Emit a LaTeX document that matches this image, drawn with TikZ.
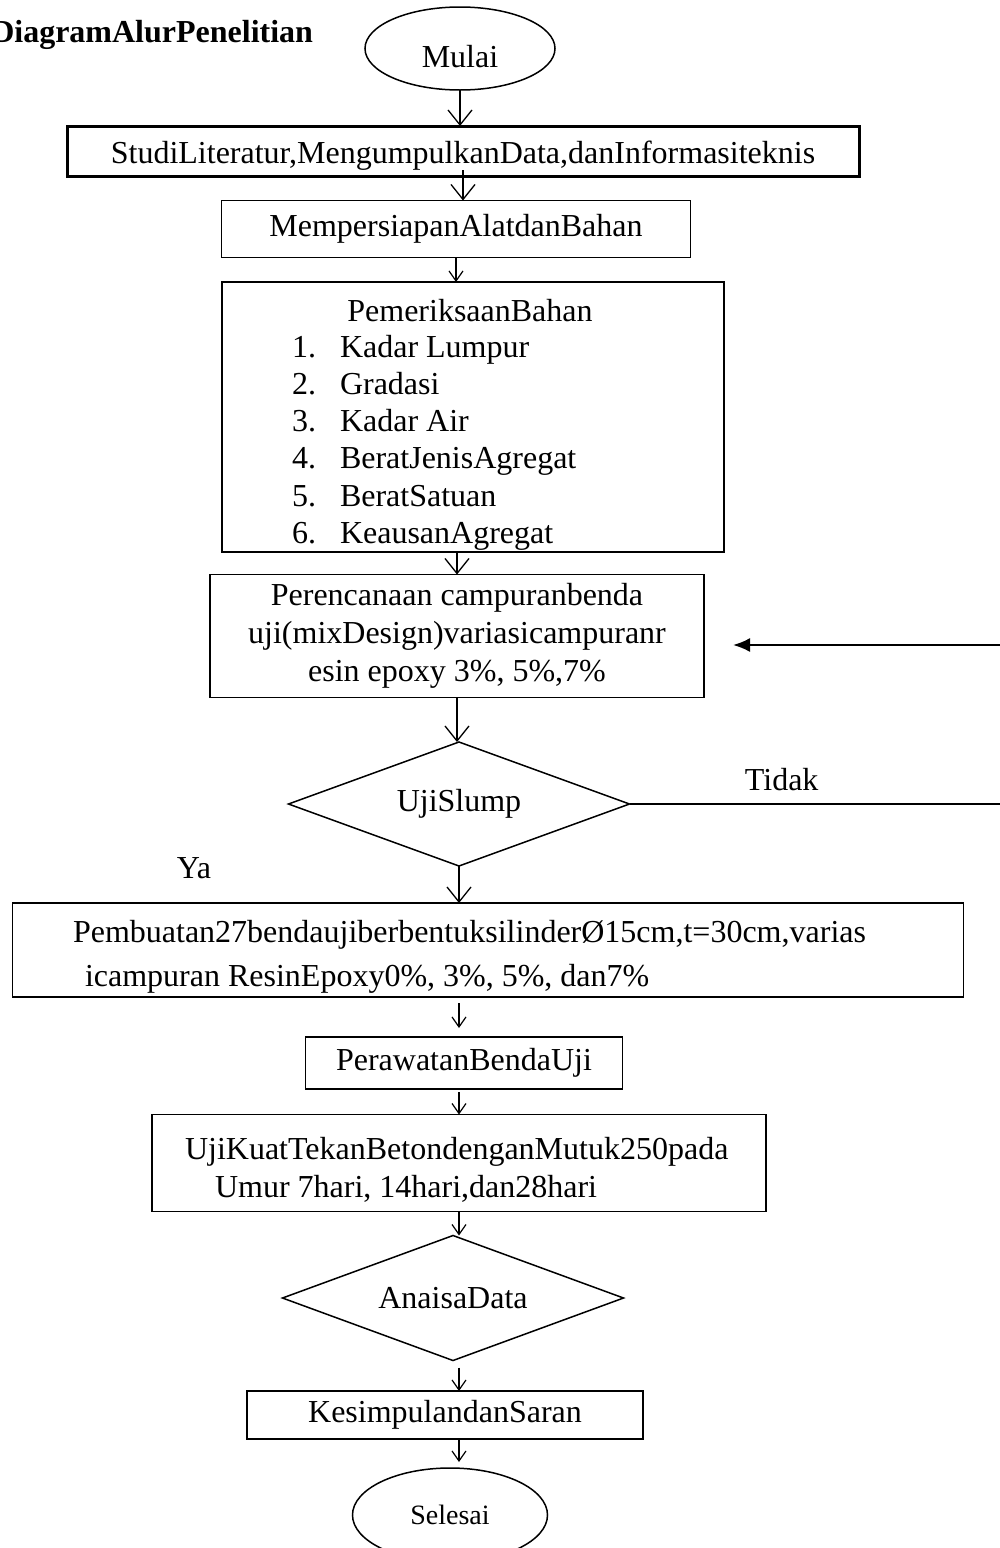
\documentclass[tikz,border=0pt]{standalone}
\usepackage{fontspec}
\setmainfont{Liberation Serif}
\usetikzlibrary{shapes.geometric,arrows.meta}

\begin{document}
\begin{tikzpicture}[x=1pt, y=-1pt, font=\fontsize{32}{38}\selectfont, every node/.style={inner sep=0pt, outer sep=0pt}, proses/.style={draw, rectangle, line width=1.3pt, align=center}, tebal/.style={draw, rectangle, line width=3pt}, terminal/.style={draw, ellipse, line width=1.5pt}, keputusan/.style={draw, diamond, aspect=2.75, line width=1.5pt}, panah/.style={line width=1.3pt, -{Straight Barb[length=15pt, width=24pt]}}, panahkecil/.style={line width=1.2pt, -{Straight Barb[length=10pt, width=14pt]}}, balik/.style={line width=2pt, -{Latex[length=17pt, width=14pt]}}]
		\useasboundingbox (0, 0) rectangle (999, 1548);

		\node[anchor=base east, font=\fontsize{32}{38}\selectfont\bfseries] (judul) at (313, 42) {DiagramAlurPenelitian};
		\node[terminal, minimum width=190pt, minimum height=83pt, text height=37pt, text depth=0pt] (mulai) at (460, 48.5) {Mulai};
		\node[tebal, minimum width=792pt, minimum height=50pt, text height=24pt, text depth=0pt] (studi) at (463, 151) {StudiLiteratur,MengumpulkanData,danInformasiteknis};
		\node[proses, minimum width=469pt, minimum height=57pt] (alat) at (456, 229) {MempersiapanAlatdanBahan};

		\node[proses, minimum width=502pt, minimum height=270pt] (periksa) at (473, 417) {};
		\node[anchor=base] (periksaJudul) at (470, 321) {PemeriksaanBahan};
		\node[anchor=base west] (b1) at (292, 357) {\makebox[48pt][l]{1.}Kadar Lumpur};
		\node[anchor=base west] (b2) at (292, 394) {\makebox[48pt][l]{2.}Gradasi};
		\node[anchor=base west] (b3) at (292, 431) {\makebox[48pt][l]{3.}Kadar Air};
		\node[anchor=base west] (b4) at (292, 468) {\makebox[48pt][l]{4.}BeratJenisAgregat};
		\node[anchor=base west] (b5) at (292, 506) {\makebox[48pt][l]{5.}BeratSatuan};
		\node[anchor=base west] (b6) at (292, 543) {\makebox[48pt][l]{6.}KeausanAgregat};

		\node[proses, minimum width=494pt, minimum height=123pt] (rencana) at (457, 636) {Perencanaan campuranbenda\\uji(mixDesign)variasicampuranr\\esin epoxy 3\%, 5\%,7\%};
		\node[keputusan, minimum width=341pt, minimum height=124pt] (slump) at (459, 804) {UjiSlump};
		\coordinate (balikKanan) at (1010, 645);
		\coordinate (balikUjung) at (733, 645);
		\node (ya) at (194, 868) {Ya};

		\node[proses, minimum width=951pt, minimum height=94pt] (buat) at (488, 950) {};
		\node[anchor=base west] (buat1) at (73, 942) {Pembuatan27bendaujiberbentuksilinderØ15cm,t=30cm,varias};
		\node[anchor=base west] (buat2) at (85, 986) {icampuran ResinEpoxy0\%, 3\%, 5\%, dan7\%};

		\node[proses, minimum width=317pt, minimum height=52pt] (rawat) at (464, 1063) {PerawatanBendaUji};
		\node[proses, minimum width=614pt, minimum height=97pt] (uji) at (459, 1163) {};
		\node[anchor=base west] (uji1) at (185, 1159) {UjiKuatTekanBetondenganMutuk250pada};
		\node[anchor=base west] (uji2) at (215, 1197) {Umur 7hari, 14hari,dan28hari};
		\node[keputusan, minimum width=341pt, minimum height=125pt] (analisa) at (453, 1298) {AnaisaData};
		\node[proses, minimum width=396pt, minimum height=48pt] (simpul) at (445, 1415) {KesimpulandanSaran};
		\node[terminal, minimum width=195pt, minimum height=94pt, font=\fontsize{28}{34}\selectfont] (selesai) at (450, 1515) {Selesai};

		\draw[panah] (mulai.south) -- (mulai.south |- studi.north);
		\draw[panah] ([yshift=6pt]studi.south) -- (studi.south |- alat.north);
		\draw[panahkecil] (alat.south) -- (alat.south |- periksa.north);
		\draw[panah] (rencana.north |- periksa.south) -- (rencana.north);
		\draw[panah] (rencana.south) -- (rencana.south |- slump.north);
		\draw[balik] (slump.east) -- node[above=13pt, pos=0.4] (tidak) {Tidak} (slump.east -| balikKanan) -- (balikKanan) -- (balikUjung);
		\draw[panah] (slump.south) -- (slump.south |- buat.north);
		\draw[panahkecil, shorten <=6pt, shorten >=9pt] (slump.south |- buat.south) -- (slump.south |- rawat.north);
		\draw[panahkecil, shorten <=3pt] (slump.south |- rawat.south) -- (slump.south |- uji.north);
		\draw[panahkecil] (uji.south) -- (uji.south |- analisa.north);
		\draw[panahkecil, shorten <=7pt] (uji.south |- analisa.south) -- (uji.south |- simpul.north);
		\draw[panahkecil, shorten >=6pt] (uji.south |- simpul.south) -- (uji.south |- selesai.north);
	\end{tikzpicture}
\end{document}
